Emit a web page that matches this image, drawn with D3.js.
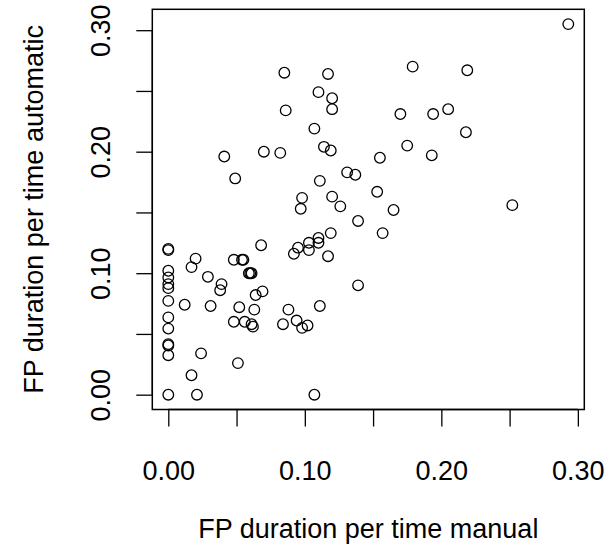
<!DOCTYPE html>
<html>
<head>
<meta charset="utf-8">
<script src="https://cdn.jsdelivr.net/npm/d3@7/dist/d3.min.js"></script>
<style>
  html, body { margin: 0; padding: 0; background: #fff; }
  svg { display: block; }
  text { font-family: "Liberation Sans", Arial, sans-serif; fill: #000; }
</style>
</head>
<body>
<svg id="chart" width="615" height="544"></svg>
<script>
// FP duration per time — manual (x) vs automatic (y)
const manualX = [
  0.293, 0.179, 0.219, 0.085, 0.117, 0.110, 0.120, 0.120, 0.086, 0.205,
  0.170, 0.194, 0.107, 0.218, 0.175, 0.114, 0.119, 0.070, 0.082, 0.041,
  0.193, 0.155, 0.049, 0.131, 0.137, 0.111, 0.153, 0.098, 0.120, 0.097,
  0.126, 0.165, 0.252, 0.139, 0.157, 0.119, 0.110, 0.103, 0.110, 0.095,
  0.103, 0.092, 0.117, 0.068, 0.000, 0.000, 0.020, 0.017, 0.048, 0.054,
  0.055, 0.000, 0.000, 0.000, 0.000, 0.000, 0.029, 0.039, 0.038, 0.059,
  0.060, 0.061, 0.064, 0.069, 0.012, 0.031, 0.052, 0.063, 0.088, 0.111,
  0.139, 0.000, 0.000, 0.048, 0.056, 0.061, 0.062, 0.084, 0.094, 0.098,
  0.102, 0.000, 0.000, 0.000, 0.024, 0.051, 0.017, 0.000, 0.021, 0.107
];
const automaticY = [
  0.305, 0.270, 0.267, 0.265, 0.264, 0.249, 0.244, 0.235, 0.234, 0.235,
  0.231, 0.231, 0.219, 0.216, 0.205, 0.204, 0.201, 0.200, 0.199, 0.196,
  0.197, 0.195, 0.178, 0.183, 0.181, 0.176, 0.167, 0.162, 0.163, 0.153,
  0.155, 0.152, 0.156, 0.143, 0.133, 0.133, 0.129, 0.125, 0.125, 0.121,
  0.119, 0.116, 0.114, 0.123, 0.119, 0.120, 0.112, 0.105, 0.111, 0.111,
  0.111, 0.102, 0.0965, 0.091, 0.0877, 0.0772, 0.097, 0.091, 0.086, 0.100,
  0.100, 0.100, 0.082, 0.085, 0.074, 0.073, 0.072, 0.070, 0.070, 0.073,
  0.090, 0.0636, 0.0544, 0.060, 0.060, 0.058, 0.056, 0.058, 0.061, 0.055,
  0.057, 0.0416, 0.0405, 0.0325, 0.034, 0.026, 0.016, 0.000, 0.000, 0.000
];
const xTicks = [0, 0.05, 0.10, 0.15, 0.20, 0.25, 0.30];
const xTickLabels = ["0.00", "", "0.10", "", "0.20", "", "0.30"];
const yTicks = [0, 0.05, 0.10, 0.15, 0.20, 0.25, 0.30];
const yTickLabels = ["0.00", "", "0.10", "", "0.20", "", "0.30"];
const xTitle = "FP duration per time manual";
const yTitle = "FP duration per time automatic";

(function () {
const points = manualX.map((v, i) => ({ x: v, y: automaticY[i] }));

const svg = d3.select("#chart");
svg.append("rect").attr("width", 615).attr("height", 544).attr("fill", "#fff");

const pLeft = 152.3, pRight = 584.3, pTop = 9.3, pBottom = 409.5;

// R style: 4% padding around data range
const xExt = d3.extent(manualX), yExt = d3.extent(automaticY);
const xPad = (xExt[1] - xExt[0]) * 0.04, yPad = (yExt[1] - yExt[0]) * 0.04;
const x = d3.scaleLinear().domain([xExt[0] - xPad, xExt[1] + xPad]).range([pLeft, pRight]);
const y = d3.scaleLinear().domain([yExt[0] - yPad, yExt[1] + yPad]).range([pBottom, pTop]);

const fontSize = 27;
const ff = '"Liberation Sans", Arial, sans-serif';

// X axis
const xAxis = d3.axisBottom(x)
  .tickValues(xTicks)
  .tickSize(17)
  .tickSizeOuter(0)
  .tickFormat((d, i) => xTickLabels[i]);
const gx = svg.append("g").attr("transform", `translate(0,${pBottom})`).call(xAxis);
gx.select(".domain").remove();
gx.append("line").attr("x1", x(xTicks[0])).attr("x2", x(xTicks[xTicks.length-1]))
  .attr("stroke", "#000").attr("stroke-width", 1.3);
gx.selectAll(".tick line").attr("stroke", "#000").attr("stroke-width", 1.3);
gx.selectAll(".tick text").attr("y", 70).attr("dy", "0")
  .style("font-size", fontSize + "px").style("font-family", ff).attr("fill", "#000");

// Y axis
const yAxis = d3.axisLeft(y)
  .tickValues(yTicks)
  .tickSize(16)
  .tickSizeOuter(0)
  .tickFormat((d, i) => yTickLabels[i]);
const gy = svg.append("g").attr("transform", `translate(${pLeft},0)`).call(yAxis);
gy.select(".domain").remove();
gy.append("line").attr("y1", y(yTicks[0])).attr("y2", y(yTicks[yTicks.length-1]))
  .attr("stroke", "#000").attr("stroke-width", 1.3);
gy.selectAll(".tick line").attr("stroke", "#000").attr("stroke-width", 1.3);
gy.selectAll(".tick text")
  .attr("transform", "rotate(-90)")
  .attr("x", 0).attr("y", -42).attr("dy", "0")
  .attr("text-anchor", "middle")
  .style("font-size", fontSize + "px").style("font-family", ff).attr("fill", "#000");

// Box
svg.append("rect")
  .attr("x", pLeft).attr("y", pTop)
  .attr("width", pRight - pLeft).attr("height", pBottom - pTop)
  .attr("fill", "none").attr("stroke", "#000").attr("stroke-width", 1.5);

// Points
svg.append("g").selectAll("circle").data(points).join("circle")
  .attr("cx", d => x(d.x)).attr("cy", d => y(d.y))
  .attr("r", 5.3)
  .attr("fill", "none").attr("stroke", "#000").attr("stroke-width", 1.3);

// Titles
svg.append("text")
  .attr("x", (pLeft + pRight) / 2).attr("y", 538)
  .attr("text-anchor", "middle").style("font-size", fontSize + "px")
  .text(xTitle);
svg.append("text")
  .attr("transform", `translate(43,${(pTop + pBottom) / 2}) rotate(-90)`)
  .attr("text-anchor", "middle").style("font-size", fontSize + "px")
  .text(yTitle);
})();
</script>
</body>
</html>
